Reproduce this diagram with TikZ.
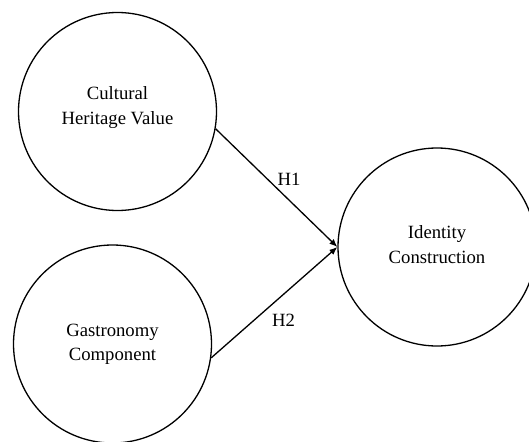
\documentclass[tikz,border=0pt]{standalone}
\usepackage{fontspec}
\setmainfont{Liberation Serif}
\usetikzlibrary{arrows.meta}

\begin{document}
\begin{tikzpicture}[x=1pt,y=-1pt,
  construct/.style={draw, circle, line width=1.3pt, minimum size=198pt, inner sep=0pt},
  caption/.style={align=center, inner sep=0pt, font=\fontsize{18.7}{24.3}\selectfont},
  path/.style={line width=1.3pt, -{Latex[length=8pt,width=6.5pt]}},
  hyp/.style={font=\fontsize{18.7}{22}\selectfont, inner sep=0pt}]
  \useasboundingbox (0,0) rectangle (529,441);

  % latent constructs
  \node[construct] (chv) at (117.5,111.5) {};
  \node[construct] (gc)  at (112.5,344)   {};
  \node[construct] (ic)  at (437,247)     {};

  \node[caption] (chvtext) at ([yshift=4pt]chv.center) {Cultural\\Heritage Value};
  \node[caption] (gctext)  at ([yshift=-0.5pt]gc.center) {Gastronomy\\Component};
  \node[caption] (ictext)  at ([yshift=2.5pt]ic.center) {Identity\\Construction};

  % hypothesised paths
  \draw[path] (chv.-10.5) -- (ic.west);
  \draw[path] (gc.-8) -- (ic.west);

  \node[hyp] (h1) at (289,179.5) {H1};
  \node[hyp] (h2) at (283.5,320.5) {H2};
\end{tikzpicture}
\end{document}
